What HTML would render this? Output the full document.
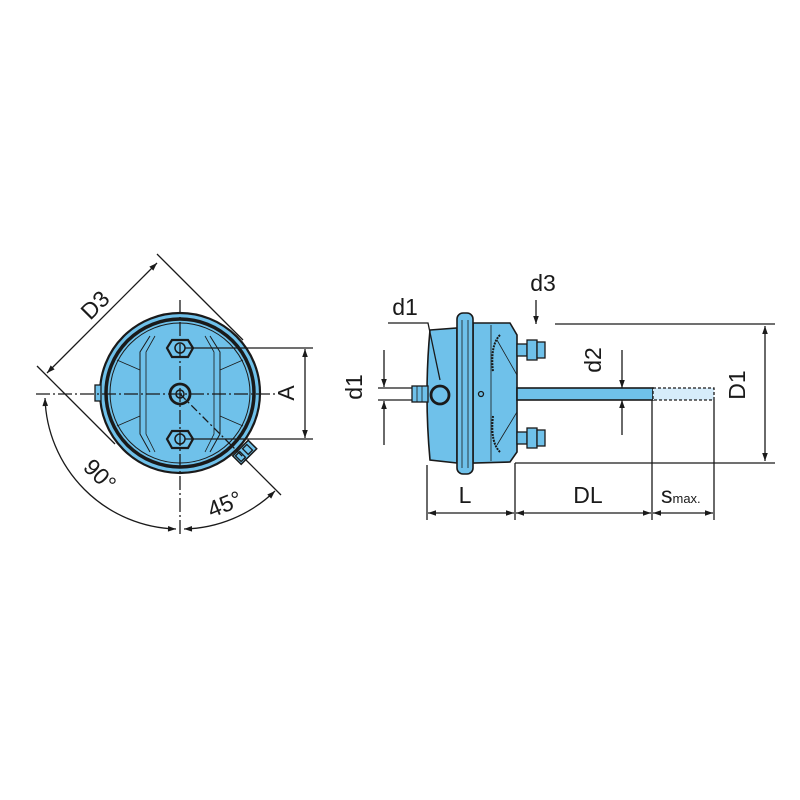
<!DOCTYPE html>
<html><head><meta charset="utf-8"><style>html,body{margin:0;padding:0;background:#fff}svg{display:block}</style></head>
<body>
<svg width="800" height="800" viewBox="0 0 800 800" xmlns="http://www.w3.org/2000/svg" font-family="Liberation Sans, Arial, sans-serif">
<defs>
<marker id="a" viewBox="0 0 10 10" refX="10" refY="5" markerWidth="11" markerHeight="8" orient="auto-start-reverse" markerUnits="userSpaceOnUse"><path d="M0,1.5 L10,5 L0,8.5 Z" fill="#1a1a1a"/></marker>
</defs>
<g stroke="#1a1a1a" fill="none" stroke-width="1.3">
<!-- LEFT VIEW -->
<circle cx="180" cy="393" r="80" fill="#6fc1ea" stroke-width="2.2"/>
<circle cx="180" cy="393" r="74" stroke-width="3.5"/>
<circle cx="180" cy="393" r="70" stroke-width="1"/>
<rect x="95" y="385" width="6" height="16" fill="#6fc1ea"/>
<path d="M150,336 L140,352 L140,434 L150,452 M210,336 L220,352 L220,434 L210,452" stroke-width="1"/>
<path d="M155,336 L146,352 L146,434 L155,452 M205,336 L214,352 L214,434 L205,452" stroke-width="0.8"/>
<path d="M140,370 L117,360 M140,416 L117,426 M220,370 L243,360 M220,416 L243,426" stroke-width="0.8"/>
<polygon points="172,340 188,340 193,348 188,357 172,357 167,348" fill="#6fc1ea" stroke-width="2.2"/>
<circle cx="180" cy="348" r="5" stroke-width="1.5"/>
<polygon points="172,431 188,431 193,439 188,448 172,448 167,439" fill="#6fc1ea" stroke-width="2.2"/>
<circle cx="180" cy="439" r="5" stroke-width="1.5"/>
<circle cx="180" cy="394" r="10" fill="#6fc1ea" stroke-width="2.8"/>
<circle cx="180" cy="394" r="4" stroke-width="1.5"/>
<g transform="rotate(-45 244 453)"><rect x="234" y="447" width="22" height="12" fill="#6fc1ea" stroke-width="1.5"/><rect x="236" y="449" width="6" height="8" fill="#6fc1ea"/><rect x="246" y="449" width="6" height="8" fill="#6fc1ea"/></g>
<path d="M36,394 L275,394" stroke-dasharray="14,3,2,3"/>
<path d="M180,300 L180,535" stroke-dasharray="14,3,2,3"/>
<path d="M180,394 L245,459" stroke-dasharray="8,3,2,3"/>
<path d="M245,459 L281,495"/>
<path d="M157,254 L243,340"/>
<path d="M37,366 L115,444"/>
<path d="M47,373 L157,263" marker-start="url(#a)" marker-end="url(#a)"/>
<path d="M185,348 L313,348 M185,439 L313,439"/>
<path d="M305,349 L305,438" marker-start="url(#a)" marker-end="url(#a)"/>
<path d="M45,398 A135,135 0 0 0 176,529" marker-start="url(#a)" marker-end="url(#a)"/>
<path d="M184,529 A135,135 0 0 0 275,491" marker-start="url(#a)" marker-end="url(#a)"/>

<!-- RIGHT VIEW -->
<path d="M430,330 L457,328 L457,463 L430,460 Q424,395 430,330 Z" fill="#6fc1ea" stroke-width="1.6"/>
<path d="M473,323 L510,323 L517,335 L517,452 L510,462 L473,463 Z" fill="#6fc1ea" stroke-width="1.6"/>
<path d="M491,325 L491,461 M497,340 L517,375 M497,445 L517,412" stroke-width="0.8"/>
<path d="M500,335 Q490,345 493,372 M500,452 Q490,442 493,416" stroke-width="2" stroke-dasharray="2,1"/>
<rect x="457" y="313" width="16" height="161" rx="6" fill="#6fc1ea" stroke-width="1.6"/>
<path d="M462,320 L462,468 M468,320 L468,468" stroke-width="0.8"/>
<circle cx="481" cy="394" r="2.5"/>
<rect x="517" y="388" width="136" height="12" fill="#6fc1ea" stroke-width="1.6"/>
<rect x="653" y="388" width="61" height="12" fill="#d6ecfa" stroke-dasharray="3,2"/>
<rect x="517" y="344" width="10" height="12" fill="#6fc1ea"/><rect x="527" y="340" width="10" height="20" fill="#6fc1ea"/><rect x="537" y="342" width="8" height="16" fill="#6fc1ea"/>
<rect x="517" y="432" width="10" height="12" fill="#6fc1ea"/><rect x="527" y="428" width="10" height="20" fill="#6fc1ea"/><rect x="537" y="430" width="8" height="16" fill="#6fc1ea"/>
<rect x="412" y="386" width="16" height="16" fill="#6fc1ea"/>
<path d="M417,386 L417,402 M422,386 L422,402" stroke-width="0.8"/>
<circle cx="440" cy="395" r="9" fill="#6fc1ea" stroke-width="2.8"/>
<path d="M388,323 L428,323 L440,380"/>
<path d="M555,324 L775,324 M515,463 L775,463"/>
<path d="M765,326 L765,461" marker-start="url(#a)" marker-end="url(#a)"/>
<path d="M427,465 L427,520 M515,463 L515,520 M652,400 L652,520 M714,400 L714,520"/>
<path d="M428,513 L514,513" marker-start="url(#a)" marker-end="url(#a)"/>
<path d="M516,513 L651,513" marker-start="url(#a)" marker-end="url(#a)"/>
<path d="M653,513 L713,513" marker-start="url(#a)" marker-end="url(#a)"/>
<path d="M536,300 L536,324" marker-end="url(#a)"/>
<path d="M622,350 L622,388" marker-end="url(#a)"/>
<path d="M622,435 L622,400" marker-end="url(#a)"/>
<path d="M378,388 L412,388 M378,400 L412,400"/>
<path d="M384,350 L384,387" marker-end="url(#a)"/>
<path d="M384,445 L384,401" marker-end="url(#a)"/>
</g>
<g fill="#1a1a1a" font-size="23">
<text x="95" y="313" transform="rotate(-45 95 305)" text-anchor="middle">D3</text>
<text x="294" y="393" transform="rotate(-90 294 393)" text-anchor="middle">A</text>
<text x="100" y="483" transform="rotate(45 100 475)" text-anchor="middle">90°</text>
<text x="225" y="512" transform="rotate(-22 225 505)" text-anchor="middle">45°</text>
<text x="405" y="315" text-anchor="middle">d1</text>
<text x="543" y="291" text-anchor="middle">d3</text>
<text x="370" y="395" transform="rotate(-90 362 395)" text-anchor="middle">d1</text>
<text x="609" y="368" transform="rotate(-90 601 368)" text-anchor="middle">d2</text>
<text x="753" y="393" transform="rotate(-90 745 393)" text-anchor="middle">D1</text>
<text x="465" y="503" text-anchor="middle">L</text>
<text x="588" y="503" text-anchor="middle">DL</text>
<text x="661" y="503">s<tspan font-size="13">max.</tspan></text>
</g>
</svg>
</body></html>
